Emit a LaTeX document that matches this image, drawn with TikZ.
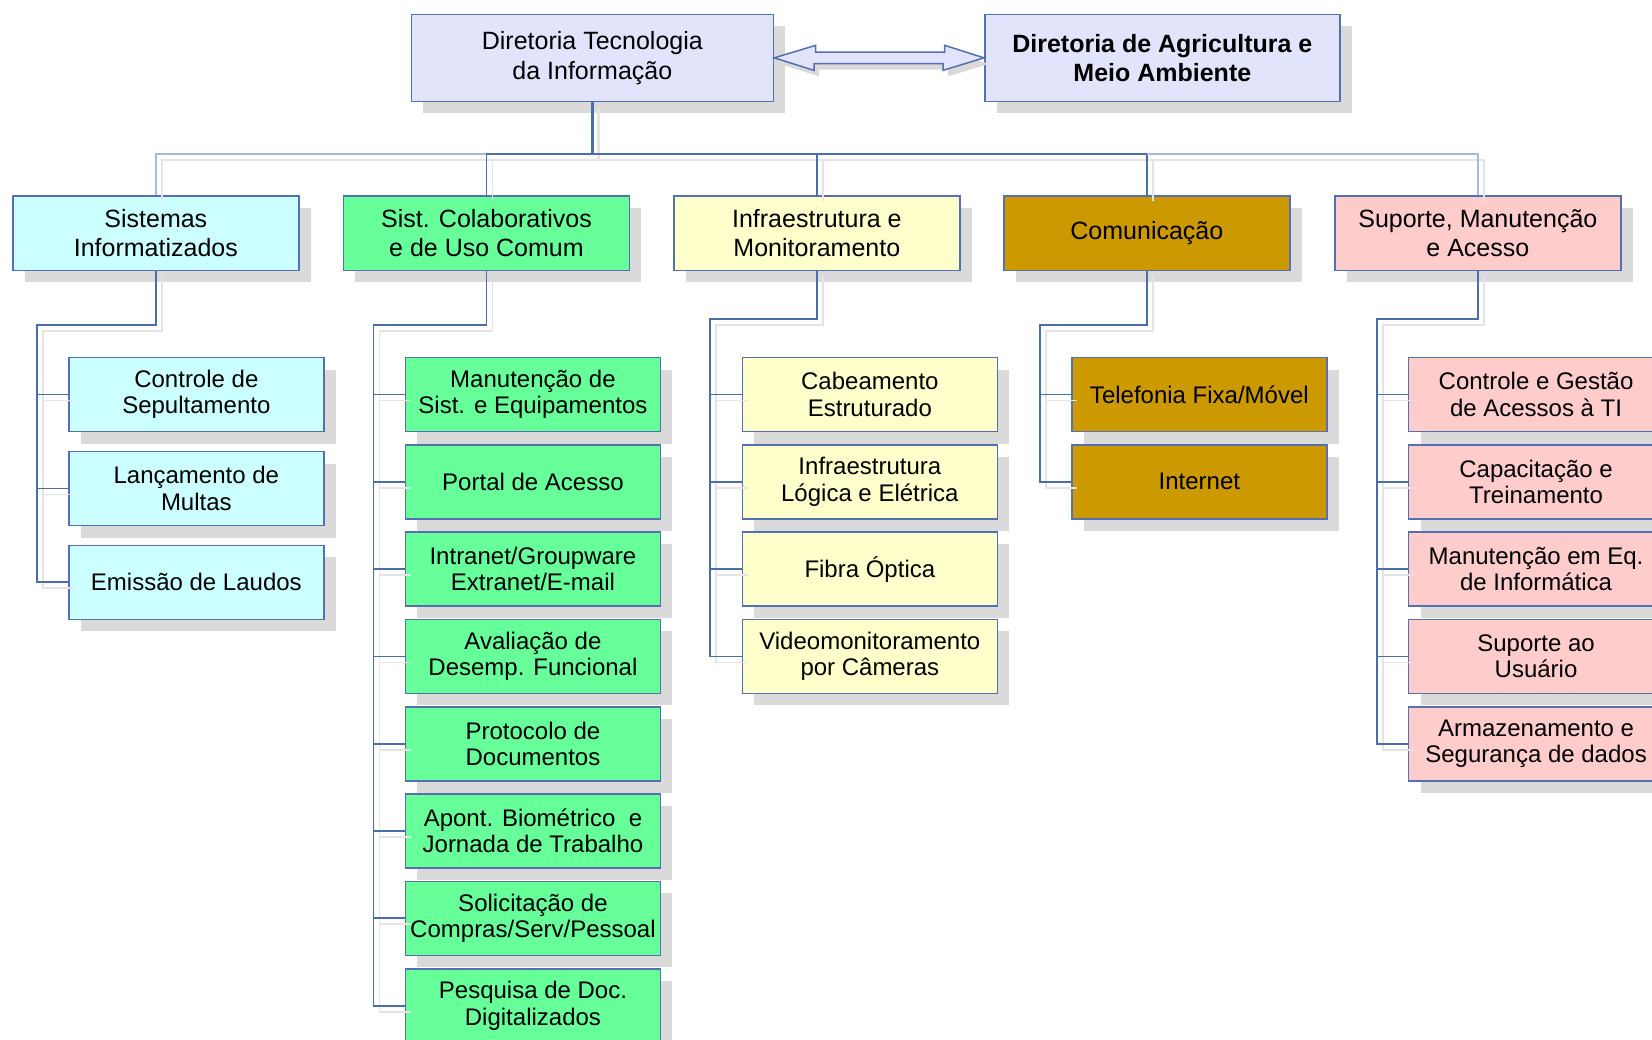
\documentclass[tikz,border=0pt]{standalone}
\usepackage{fontspec}
\setmainfont{Liberation Sans}
\usetikzlibrary{shadows,calc}
\definecolor{bordc}{RGB}{84,112,176}
\definecolor{connc}{RGB}{74,110,169}
\definecolor{connl}{RGB}{165,186,222}
\definecolor{shadc}{RGB}{218,218,218}
\definecolor{cshad}{RGB}{228,228,228}
\definecolor{lav}{RGB}{226,228,252}
\definecolor{cyanf}{RGB}{204,255,255}
\definecolor{greenf}{RGB}{102,255,153}
\definecolor{yellf}{RGB}{255,255,204}
\definecolor{goldf}{RGB}{204,153,0}
\definecolor{pinkf}{RGB}{255,204,204}
\tikzset{
 box/.style={rectangle, draw=bordc, line width=1.7pt, anchor=north west, align=center, inner sep=0pt, text=black,
   drop shadow={shadow xshift=12pt, shadow yshift=-12pt, fill=shadc, opacity=1}},
 topbox/.style={box, minimum height=87pt, fill=lav, font=\fontsize{25}{29.5}\selectfont},
 lone/.style={box, minimum width=286pt, minimum height=74.5pt, font=\fontsize{25}{29.5}\selectfont},
 ltwo/.style={box, minimum width=255pt, minimum height=74pt, font=\fontsize{24}{26.3}\selectfont},
 conn/.style={draw=connc, line width=1.8pt},
 connlt/.style={draw=connl, line width=1.4pt},
 cshadow/.style={draw=cshad, line width=1.8pt},
 dblarrow/.style={draw=bordc, fill=lav, line width=1.5pt, line join=miter},
}
\newcommand{\treepaths}[2]{%
 \draw[#1, line width=2.5pt] (TI.south) -- (TI.south |- busy);
 \draw[#1] (TI.south |- busy) -| (s2.north);
 \draw[#1] (TI.south |- busy) -| (s3.north);
 \draw[#1] (TI.south |- busy) -| (s4.north);
 \draw[#2] (s2.north |- busy) -| (s1.north);
 \draw[#2] (s4.north |- busy) -| (s5.north);
 \draw[#1] (s1.south) |- (j1) |- (a3.west);
 \foreach \n in {a1,a2} {\draw[#1] (j1 |- \n.west) -- (\n.west);}
 \draw[#1] (s2.south) |- (j2) |- (b8.west);
 \foreach \n in {b1,b2,b3,b4,b5,b6,b7} {\draw[#1] (j2 |- \n.west) -- (\n.west);}
 \draw[#1] (s3.south) |- (j3) |- (c4.west);
 \foreach \n in {c1,c2,c3} {\draw[#1] (j3 |- \n.west) -- (\n.west);}
 \draw[#1] (s4.south) |- (j4) |- (d2.west);
 \draw[#1] (j4 |- d1.west) -- (d1.west);
 \draw[#1] (s5.south) |- (j5) |- (e5.west);
 \foreach \n in {e1,e2,e3,e4} {\draw[#1] (j5 |- \n.west) -- (\n.west);}
}
\newcommand{\arrowpath}{(TI.east) -- ++(41.5,-12.5) -- ++(0,6.7) -- ++(129,0) -- ++(0,-6.7) -- (Agri.west) -- ++(-41,12.5) -- ++(0,-6.7) -- ++(-129,0) -- ++(0,6.7) -- cycle}
\begin{document}
\begin{tikzpicture}[x=1pt, y=-1pt]
\useasboundingbox (0,0) rectangle (1652,1039);
\fill[white] (0,0) rectangle (1652,1039);
\clip (0,0) rectangle (1652,1039);

% top level
\node[topbox, minimum width=362pt] (TI) at (410.5,13.5) {Diretoria Tecnologia\\da Informação};
\node[topbox, minimum width=355pt, font=\fontsize{25}{29.5}\selectfont\bfseries] (Agri) at (984,13.5) {Diretoria de Agricultura e\\Meio Ambiente};

% level 1
\node[lone, fill=cyanf] (s1) at (12,195) {Sistemas\\Informatizados};
\node[lone, fill=greenf] (s2) at (342.6,195) {Sist. Colaborativos\\e de Uso Comum};
\node[lone, fill=yellf] (s3) at (673,195) {Infraestrutura e\\Monitoramento};
\node[lone, fill=goldf] (s4) at (1003,195) {Comunicação};
\node[lone, fill=pinkf] (s5) at (1334,195) {Suporte, Manutenção\\e Acesso};

% column 1
\node[ltwo, fill=cyanf] (a1) at (68,356.7) {Controle de\\Sepultamento};
\node[ltwo, fill=cyanf] (a2) at (68,450.7) {Lançamento de\\Multas};
\node[ltwo, fill=cyanf] (a3) at (68,544.5) {Emissão de Laudos};

% column 2
\node[ltwo, fill=greenf] (b1) at (404.6,356.7) {Manutenção de\\Sist. e Equipamentos};
\node[ltwo, fill=greenf] (b2) at (404.6,444.0) {Portal de Acesso};
\node[ltwo, fill=greenf] (b3) at (404.6,531.3) {Intranet/Groupware\\Extranet/E-mail};
\node[ltwo, fill=greenf] (b4) at (404.6,618.6) {Avaliação de\\Desemp. Funcional};
\node[ltwo, fill=greenf] (b5) at (404.6,705.9) {Protocolo de\\Documentos};
\node[ltwo, fill=greenf] (b6) at (404.6,793.2) {Apont. Biométrico \ e\\Jornada de Trabalho};
\node[ltwo, fill=greenf] (b7) at (404.6,880.5) {Solicitação de\\Compras/Serv/Pessoal};
\node[ltwo, fill=greenf] (b8) at (404.6,967.8) {Pesquisa de Doc.\\Digitalizados};

% column 3
\node[ltwo, fill=yellf] (c1) at (741.5,356.7) {Cabeamento\\Estruturado};
\node[ltwo, fill=yellf] (c2) at (741.5,444.0) {Infraestrutura\\Lógica e Elétrica};
\node[ltwo, fill=yellf] (c3) at (741.5,531.3) {Fibra Óptica};
\node[ltwo, fill=yellf] (c4) at (741.5,618.6) {Videomonitoramento\\por Câmeras};

% column 4
\node[ltwo, fill=goldf] (d1) at (1071,356.7) {Telefonia Fixa/Móvel};
\node[ltwo, fill=goldf] (d2) at (1071,444.0) {Internet};

% column 5
\node[ltwo, fill=pinkf] (e1) at (1407.7,356.7) {Controle e Gestão\\de Acessos à TI};
\node[ltwo, fill=pinkf] (e2) at (1407.7,444.0) {Capacitação e\\Treinamento};
\node[ltwo, fill=pinkf] (e3) at (1407.7,531.3) {Manutenção em Eq.\\de Informática};
\node[ltwo, fill=pinkf] (e4) at (1407.7,618.6) {Suporte ao\\Usuário};
\node[ltwo, fill=pinkf] (e5) at (1407.7,705.9) {Armazenamento e\\Segurança de dados};

% junctions
\coordinate (busy) at (0,153.8);
\coordinate (j1) at (36.8,325.3);
\coordinate (j2) at (373.5,325.3);
\coordinate (j3) at (710,319.3);
\coordinate (j4) at (1040.3,325.3);
\coordinate (j5) at (1376.7,319.3);

% connector shadows
\begin{scope}[transform canvas={xshift=6pt,yshift=-6pt}]
\treepaths{cshadow}{cshadow}
\end{scope}
% connectors
\treepaths{conn}{connlt}

% double arrow
\begin{scope}[transform canvas={xshift=5pt,yshift=-6pt}]
\fill[shadc] \arrowpath;
\end{scope}
\draw[dblarrow] \arrowpath;
\end{tikzpicture}
\end{document}
